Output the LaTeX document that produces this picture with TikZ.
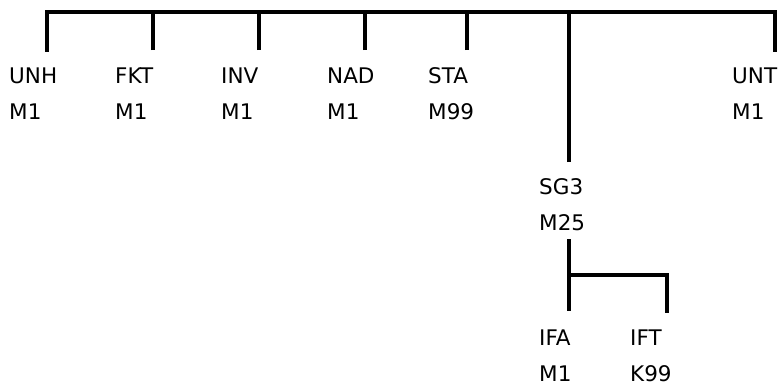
\documentclass[tikz,border=0pt]{standalone}
\usepackage{fontspec}
\setmainfont{DejaVu Sans}
\begin{document}
\begin{tikzpicture}[x=1pt,y=-1pt,
  lbl/.style={anchor=base west,inner sep=0pt,font=\fontsize{21.5}{26}\selectfont},
  wire/.style={line width=4.5pt,line cap=rect,line join=miter}]
\useasboundingbox (0,0) rectangle (784,388);
% labels
\node[lbl] (unh) at (9,83) {UNH};   \node[lbl] (unhc) at (9,119) {M1};
\node[lbl] (fkt) at (115,83) {FKT}; \node[lbl] (fktc) at (115,119) {M1};
\node[lbl] (inv) at (221,83) {INV}; \node[lbl] (invc) at (221,119) {M1};
\node[lbl] (nad) at (327,83) {NAD}; \node[lbl] (nadc) at (327,119) {M1};
\node[lbl] (sta) at (428,83) {STA}; \node[lbl] (stac) at (428,119) {M99};
\node[lbl] (unt) at (732,83) {UNT}; \node[lbl] (untc) at (732,119) {M1};
\node[lbl] (sg) at (539,194) {SG3};  \node[lbl] (sgc) at (539,230) {M25};
\node[lbl] (ifa) at (539,345) {IFA}; \node[lbl] (ifac) at (539,381) {M1};
\node[lbl] (ift) at (630,345) {IFT}; \node[lbl] (iftc) at (630,381) {K99};
% connector points
\coordinate (bL) at (47,12); \coordinate (bR) at (775,12);
\coordinate (tUNH) at (47,50); \coordinate (tFKT) at (153,50);
\coordinate (tINV) at (259,50); \coordinate (tNAD) at (365,50);
\coordinate (tSTA) at (467,50); \coordinate (tUNT) at (775,50);
\coordinate (tSG) at (569,162);
\coordinate (sSG) at (569,239); \coordinate (j) at (569,275);
\coordinate (jR) at (667,275);
\coordinate (tIFA) at (569,311); \coordinate (tIFT) at (667,311);
% wires
\draw[wire] (tUNH) -- (bL) -- (bR) -- (tUNT);
\draw[wire,line cap=butt] (tFKT) -- (tFKT|-bL);
\draw[wire,line cap=butt] (tINV) -- (tINV|-bL);
\draw[wire,line cap=butt] (tNAD) -- (tNAD|-bL);
\draw[wire,line cap=butt] (tSTA) -- (tSTA|-bL);
\draw[wire,line cap=butt] (tSG) -- (tSG|-bL);
\draw[wire,line cap=butt] (sSG) -- (tIFA);
\draw[wire] (j) -- (jR) -- (tIFT);
\end{tikzpicture}
\end{document}
